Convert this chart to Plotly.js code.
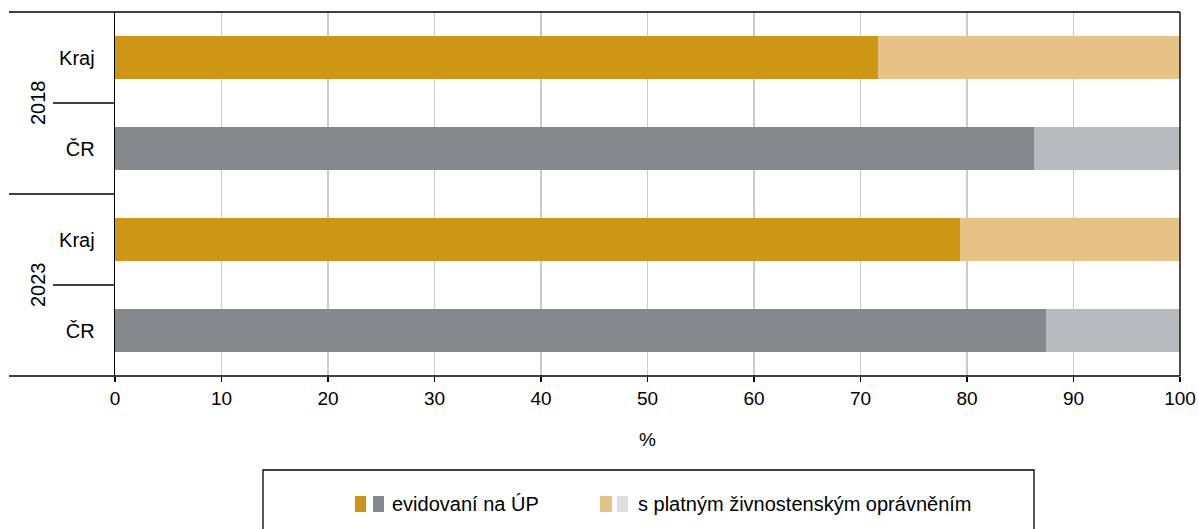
<!DOCTYPE html>
<html>
<head>
<meta charset="utf-8">
<script src="https://cdn.plot.ly/plotly-3.0.1.min.js"></script>
<style>html,body{margin:0;padding:0;background:#fff;}#chart{width:1199px;height:529px;}</style>
</head>
<body>
<div id="chart"></div>
<script>
// Data
const years = ['2018', '2018', '2023', '2023'];
const regions = ['Kraj', 'ČR', 'Kraj', 'ČR'];
const evidovani = [71.6, 86.3, 79.3, 87.4];
const zivnost = [28.4, 13.7, 20.7, 12.6];
const seriesNames = ['evidovaní na ÚP', 's platným živnostenským oprávněním'];
const xTicks = [0, 10, 20, 30, 40, 50, 60, 70, 80, 90, 100];

// Colors (style)
const darkCol = {Kraj: '#CD9614', 'ČR': '#86888C'};
const lightCol = {Kraj: '#E6C384', 'ČR': '#B8BABE'};

const ids = years.map((y, i) => y + ' ' + regions[i]);

const traces = [
  {type: 'bar', orientation: 'h', y: ids, x: evidovani, name: seriesNames[0],
   marker: {color: regions.map(r => darkCol[r])}, hoverinfo: 'skip'},
  {type: 'bar', orientation: 'h', y: ids, x: zivnost, name: seriesNames[1],
   marker: {color: regions.map(r => lightCol[r])}, hoverinfo: 'skip'}
];

const L = 115, R = 1180, T = 12, B = 376, W = 1199, H = 529;
const px = p => (p - L) / (R - L);
const py = p => (B - p) / (B - T);

const shapes = [
  {type: 'line', xref: 'paper', yref: 'paper', x0: px(9), x1: 1, y0: 1, y1: 1, line: {color: '#000', width: 1.3}},
  {type: 'line', xref: 'paper', yref: 'paper', x0: px(9), x1: 1, y0: 0, y1: 0, line: {color: '#000', width: 1.3}},
  {type: 'line', xref: 'paper', yref: 'paper', x0: 1, x1: 1, y0: 0, y1: 1, line: {color: '#222', width: 1.6}},
  {type: 'line', xref: 'paper', yref: 'y', x0: px(9), x1: 0, y0: 1.5, y1: 1.5, line: {color: '#000', width: 1.3}},
  {type: 'line', xref: 'paper', yref: 'y', x0: px(53), x1: 0, y0: 0.5, y1: 0.5, line: {color: '#000', width: 1.3}},
  {type: 'line', xref: 'paper', yref: 'y', x0: px(53), x1: 0, y0: 2.5, y1: 2.5, line: {color: '#000', width: 1.3}},
  // legend box
  {type: 'rect', xref: 'paper', yref: 'paper', x0: px(263), x1: px(1034), y0: py(545), y1: py(470), line: {color: '#000', width: 1.3}, fillcolor: 'rgba(0,0,0,0)'},
  // legend swatches
  {type: 'rect', xref: 'paper', yref: 'paper', x0: px(355), x1: px(366), y0: py(512), y1: py(496), line: {width: 0}, fillcolor: darkCol.Kraj},
  {type: 'rect', xref: 'paper', yref: 'paper', x0: px(373), x1: px(384), y0: py(512), y1: py(496), line: {width: 0}, fillcolor: darkCol['ČR']},
  {type: 'rect', xref: 'paper', yref: 'paper', x0: px(600), x1: px(612), y0: py(512), y1: py(496), line: {width: 0}, fillcolor: lightCol.Kraj},
  {type: 'rect', xref: 'paper', yref: 'paper', x0: px(617), x1: px(628), y0: py(512), y1: py(496), line: {width: 0}, fillcolor: '#DEDEDE'}
];

const yearSet = [...new Set(years)];
const annotations = yearSet.map(yr => {
  const idx = years.map((y, i) => y === yr ? i : -1).filter(i => i >= 0);
  const mid = idx.reduce((a, b) => a + b, 0) / idx.length;
  return {xref: 'paper', yref: 'y', x: px(25), y: mid, text: yr, showarrow: false,
    textangle: -90, font: {family: 'Liberation Sans, Arial, sans-serif', size: 20, color: '#000'}};
});
annotations.push(
  {xref: 'paper', yref: 'paper', x: px(390), y: py(504), xanchor: 'left', yanchor: 'middle', text: seriesNames[0], showarrow: false,
   font: {family: 'Liberation Sans, Arial, sans-serif', size: 20, color: '#000'}},
  {xref: 'paper', yref: 'paper', x: px(636), y: py(504), xanchor: 'left', yanchor: 'middle', text: seriesNames[1], showarrow: false,
   font: {family: 'Liberation Sans, Arial, sans-serif', size: 20, color: '#000'}}
);

const layout = {
  width: W, height: H,
  margin: {l: L, r: W - R, t: T, b: H - B, pad: 0},
  paper_bgcolor: '#fff', plot_bgcolor: '#fff',
  barmode: 'stack', bargap: 0.52,
  showlegend: false,
  font: {family: 'Liberation Sans, Arial, sans-serif', size: 19, color: '#000'},
  xaxis: {
    range: [0, 100], tickvals: xTicks, ticktext: xTicks.map(String),
    showgrid: true, gridcolor: '#CACACA', gridwidth: 1.6, zeroline: false,
    showline: false, ticks: 'outside', ticklen: 5, tickcolor: '#000', tickwidth: 1.3,
    tickfont: {size: 19},
    title: {text: '%', font: {size: 19}, standoff: 24},
    fixedrange: true
  },
  yaxis: {
    type: 'category', categoryorder: 'array', categoryarray: ids,
    range: [3.5, -0.5], tickvals: ids, ticktext: regions,
    showgrid: false, zeroline: false, showline: true, linecolor: '#000', linewidth: 1.3,
    ticks: '', ticklabelstandoff: 15, tickfont: {size: 20}, fixedrange: true
  },
  shapes: shapes,
  annotations: annotations
};

Plotly.newPlot('chart', traces, layout, {displayModeBar: false, staticPlot: true});
</script>
</body>
</html>
